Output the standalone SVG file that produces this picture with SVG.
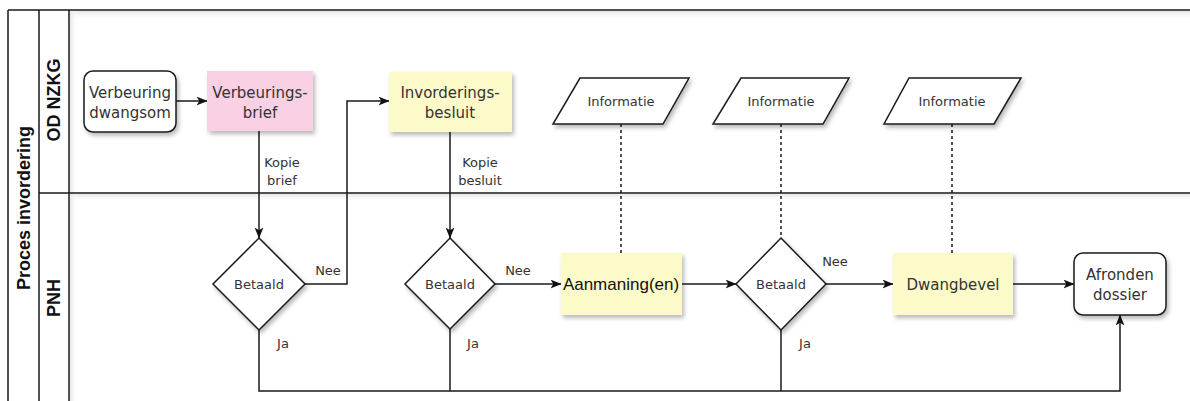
<svg xmlns="http://www.w3.org/2000/svg" width="1190" height="401" viewBox="0 0 1190 401">
<defs>
<style>
.ln{fill:none;stroke:#1a1a1a;stroke-width:1.5}
.dash{fill:none;stroke:#1a1a1a;stroke-width:1.5;stroke-dasharray:3 3}
.box{stroke:#1a1a1a;stroke-width:1.5}
.t{font-family:"DejaVu Sans",Verdana,sans-serif;font-size:15px;fill:#333;text-anchor:middle}
.s{font-family:"DejaVu Sans",Verdana,sans-serif;font-size:13px;fill:#333;text-anchor:middle}
.lane{font-family:"Liberation Sans",Arial,sans-serif;font-size:18px;font-weight:bold;fill:#111;text-anchor:middle;dominant-baseline:central}
</style>
<filter id="sh" x="-20%" y="-20%" width="150%" height="150%">
<feDropShadow dx="2" dy="3" stdDeviation="2" flood-color="#000" flood-opacity="0.28"/>
</filter>
<linearGradient id="gt" x1="0" y1="0" x2="0" y2="1">
<stop offset="0" stop-color="#e6e6e6"/>
<stop offset="1" stop-color="#ffffff" stop-opacity="0"/>
</linearGradient>
<linearGradient id="gl" x1="0" y1="0" x2="1" y2="0">
<stop offset="0" stop-color="#e6e6e6"/>
<stop offset="1" stop-color="#ffffff" stop-opacity="0"/>
</linearGradient>
<marker id="ar" viewBox="0 0 10 8" refX="9.5" refY="4" markerWidth="11" markerHeight="9" markerUnits="userSpaceOnUse" orient="auto">
<path d="M0,0 L10,4 L0,8 L2.5,4 Z" fill="#111"/>
</marker>
</defs>
<rect width="1190" height="401" fill="#fff"/>
<g id="pool">
<rect x="70" y="11" width="1120" height="9" fill="url(#gt)"/>
<rect x="70" y="194" width="1120" height="8" fill="url(#gt)"/>
<rect x="70" y="11" width="8" height="390" fill="url(#gl)"/>
<path class="ln" d="M8,10 H1190 M8,10 V401 M39,10 V401 M69,10 V401 M39,193 H1190"/>
<text class="lane" transform="translate(24,208) rotate(-90)">Proces invordering</text>
<text class="lane" transform="translate(54,100) rotate(-90)">OD NZKG</text>
<text class="lane" transform="translate(54,298) rotate(-90)">PNH</text>
</g>
<g id="connectors">
<path class="ln" d="M176,101 H207" marker-end="url(#ar)"/>
<path class="ln" d="M259,131 V238" marker-end="url(#ar)"/>
<path class="ln" d="M305,284 H347 V101 H389" marker-end="url(#ar)"/>
<path class="ln" d="M450,132 V238" marker-end="url(#ar)"/>
<path class="ln" d="M495,284 H561" marker-end="url(#ar)"/>
<path class="ln" d="M682,284 H736" marker-end="url(#ar)"/>
<path class="ln" d="M826,284 H893" marker-end="url(#ar)"/>
<path class="ln" d="M1013,284 H1074" marker-end="url(#ar)"/>
<path class="ln" d="M259,330 V391 H1120 V315" marker-end="url(#ar)"/>
<path class="ln" d="M450,329 V391"/>
<path class="ln" d="M781,330 V391"/>
<path class="dash" d="M621,124 V253"/>
<path class="dash" d="M781,124 V238"/>
<path class="dash" d="M952,124 V253"/>
<text class="s" x="282" y="167">Kopie</text>
<text class="s" x="282" y="185">brief</text>
<text class="s" x="480" y="167">Kopie</text>
<text class="s" x="480" y="185">besluit</text>
<text class="s" x="328" y="275">Nee</text>
<text class="s" x="518" y="275">Nee</text>
<text class="s" x="835" y="266">Nee</text>
<text class="s" x="283" y="348">Ja</text>
<text class="s" x="473" y="348">Ja</text>
<text class="s" x="805" y="348">Ja</text>
</g>
<g id="verbeuring">
<rect class="box" x="84" y="71" width="92" height="61" rx="9" fill="#fff" filter="url(#sh)"/>
<text class="t" x="130" y="98">Verbeuring</text>
<text class="t" x="130" y="118">dwangsom</text>
</g>
<g id="verbeuringsbrief">
<rect x="207" y="71" width="106" height="60" fill="#f9d0e4" filter="url(#sh)"/>
<text class="t" x="260" y="98">Verbeurings-</text>
<text class="t" x="260" y="118">brief</text>
</g>
<g id="invorderingsbesluit">
<rect x="389" y="72" width="123" height="60" fill="#fcfac8" filter="url(#sh)"/>
<text class="t" x="450" y="98">Invorderings-</text>
<text class="t" x="450" y="118">besluit</text>
</g>
<g id="betaald1">
<path class="box" d="M259,238 L305,284 L259,330 L213,284 Z" fill="#fff" filter="url(#sh)"/>
<text class="s" x="259" y="289">Betaald</text>
</g>
<g id="betaald2">
<path class="box" d="M450,238 L495,284 L450,329 L405,284 Z" fill="#fff" filter="url(#sh)"/>
<text class="s" x="450" y="289">Betaald</text>
</g>
<g id="info1">
<path class="box" d="M580,78 L689,78 L663,124 L553,124 Z" fill="#fff" filter="url(#sh)"/>
<text class="s" x="621" y="106">Informatie</text>
</g>
<g id="info2">
<path class="box" d="M741,78 L849,78 L823,124 L713,124 Z" fill="#fff" filter="url(#sh)"/>
<text class="s" x="781" y="106">Informatie</text>
</g>
<g id="info3">
<path class="box" d="M909,78 L1021,78 L994,124 L884,124 Z" fill="#fff" filter="url(#sh)"/>
<text class="s" x="952" y="106">Informatie</text>
</g>
<g id="aanmaning">
<rect x="561" y="253" width="121" height="62" fill="#fcfac8" filter="url(#sh)"/>
<text x="621" y="290" style="font-family:'Liberation Sans',Arial,sans-serif;font-size:17px;fill:#111;text-anchor:middle">Aanmaning(en)</text>
</g>
<g id="betaald3">
<path class="box" d="M781,238 L826,284 L781,330 L736,284 Z" fill="#fff" filter="url(#sh)"/>
<text class="s" x="781" y="289">Betaald</text>
</g>
<g id="dwangbevel">
<rect x="893" y="253" width="120" height="62" fill="#fcfac8" filter="url(#sh)"/>
<text class="t" x="953" y="290">Dwangbevel</text>
</g>
<g id="afronden">
<rect class="box" x="1074" y="253" width="92" height="62" rx="9" fill="#fff" filter="url(#sh)"/>
<text class="t" x="1120" y="280">Afronden</text>
<text class="t" x="1120" y="300">dossier</text>
</g>
</svg>
